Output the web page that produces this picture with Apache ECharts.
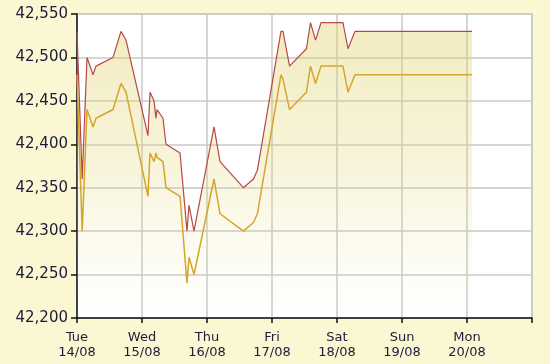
<!DOCTYPE html>
<html>
<head>
<meta charset="utf-8">
<script src="https://cdn.jsdelivr.net/npm/echarts@6/dist/echarts.min.js"></script>
<style>
html,body{margin:0;padding:0;background:#FBF7D2;}
#c{width:550px;height:364px;}
</style>
</head>
<body>
<div id="c"></div>
<script>
// x positions in days since Tue 14/08 00:00
var times = [0, 0.08, 0.154, 0.246, 0.292, 0.554, 0.677, 0.754, 1.092, 1.123, 1.185, 1.215, 1.231, 1.323, 1.369, 1.585, 1.692, 1.723, 1.8, 2.108, 2.2, 2.56, 2.715, 2.775, 3.138, 3.169, 3.27, 3.53, 3.592, 3.67, 3.754, 4.092, 4.169, 4.277, 6.077];
var sellValues = [42530, 42360, 42500, 42480, 42490, 42500, 42530, 42520, 42410, 42460, 42450, 42430, 42440, 42430, 42400, 42390, 42300, 42330, 42300, 42420, 42380, 42350, 42360, 42370, 42530, 42530, 42490, 42510, 42540, 42520, 42540, 42540, 42510, 42530, 42530];
var buyValues = [42480, 42300, 42440, 42420, 42430, 42440, 42470, 42460, 42340, 42390, 42380, 42390, 42385, 42380, 42350, 42340, 42240, 42270, 42250, 42360, 42320, 42300, 42310, 42320, 42480, 42475, 42440, 42460, 42490, 42470, 42490, 42490, 42460, 42480, 42480];
var xLabels = ['Tue\n14/08', 'Wed\n15/08', 'Thu\n16/08', 'Fri\n17/08', 'Sat\n18/08', 'Sun\n19/08', 'Mon\n20/08', ''];

function pairs(vals){ return times.map(function(t,i){ return [t, vals[i]]; }); }

var chart = echarts.init(document.getElementById('c'), null, {renderer:'canvas'});
chart.setOption({
  backgroundColor:'#FBF7D2',
  animation:false,
  grid:{left:77, right:18, top:14, bottom:46, show:true, backgroundColor:'#ffffff', borderColor:'#C8C8C8', borderWidth:1.5},
  xAxis:{
    type:'value', min:0, max:7, interval:1,
    axisLine:{show:true, lineStyle:{color:'#111', width:1.5}},
    axisTick:{show:true, length:5, lineStyle:{color:'#111', width:1.5}},
    splitLine:{show:true, lineStyle:{color:'#C8C8C8', width:1.5}},
    axisLabel:{
      color:'#1B1B3A', fontFamily:'DejaVu Sans', fontSize:13, lineHeight:15, margin:12,
      formatter:function(v){ return xLabels[Math.round(v)] || ''; }
    }
  },
  yAxis:{
    type:'value', min:42200, max:42550, interval:50,
    axisLine:{show:true, lineStyle:{color:'#111', width:1.5}},
    axisTick:{show:true, length:6, lineStyle:{color:'#111', width:1.5}},
    splitLine:{show:true, lineStyle:{color:'#C8C8C8', width:1.5}},
    axisLabel:{
      color:'#1B1B3A', fontFamily:'DejaVu Sans', fontSize:15, margin:9,
      formatter:function(v){ return String(v).replace(/(\d\d)(\d\d\d)$/, '$1,$2'); }
    }
  },
  series:[
    {type:'line', name:'sell', data:pairs(sellValues), showSymbol:false, symbol:'none',
     lineStyle:{color:'#B5484A', width:1.2},
     areaStyle:{origin:'start', color:new echarts.graphic.LinearGradient(0,0,0,1,[
       {offset:0, color:'rgba(221,205,90,0.55)'},
       {offset:0.5, color:'rgba(225,212,110,0.35)'},
       {offset:1, color:'rgba(240,232,170,0.02)'}
     ])}, z:3},
    {type:'line', name:'buy', data:pairs(buyValues), showSymbol:false, symbol:'none',
     lineStyle:{color:'#D6A52C', width:1.5}, z:4}
  ]
});
</script>
</body>
</html>
